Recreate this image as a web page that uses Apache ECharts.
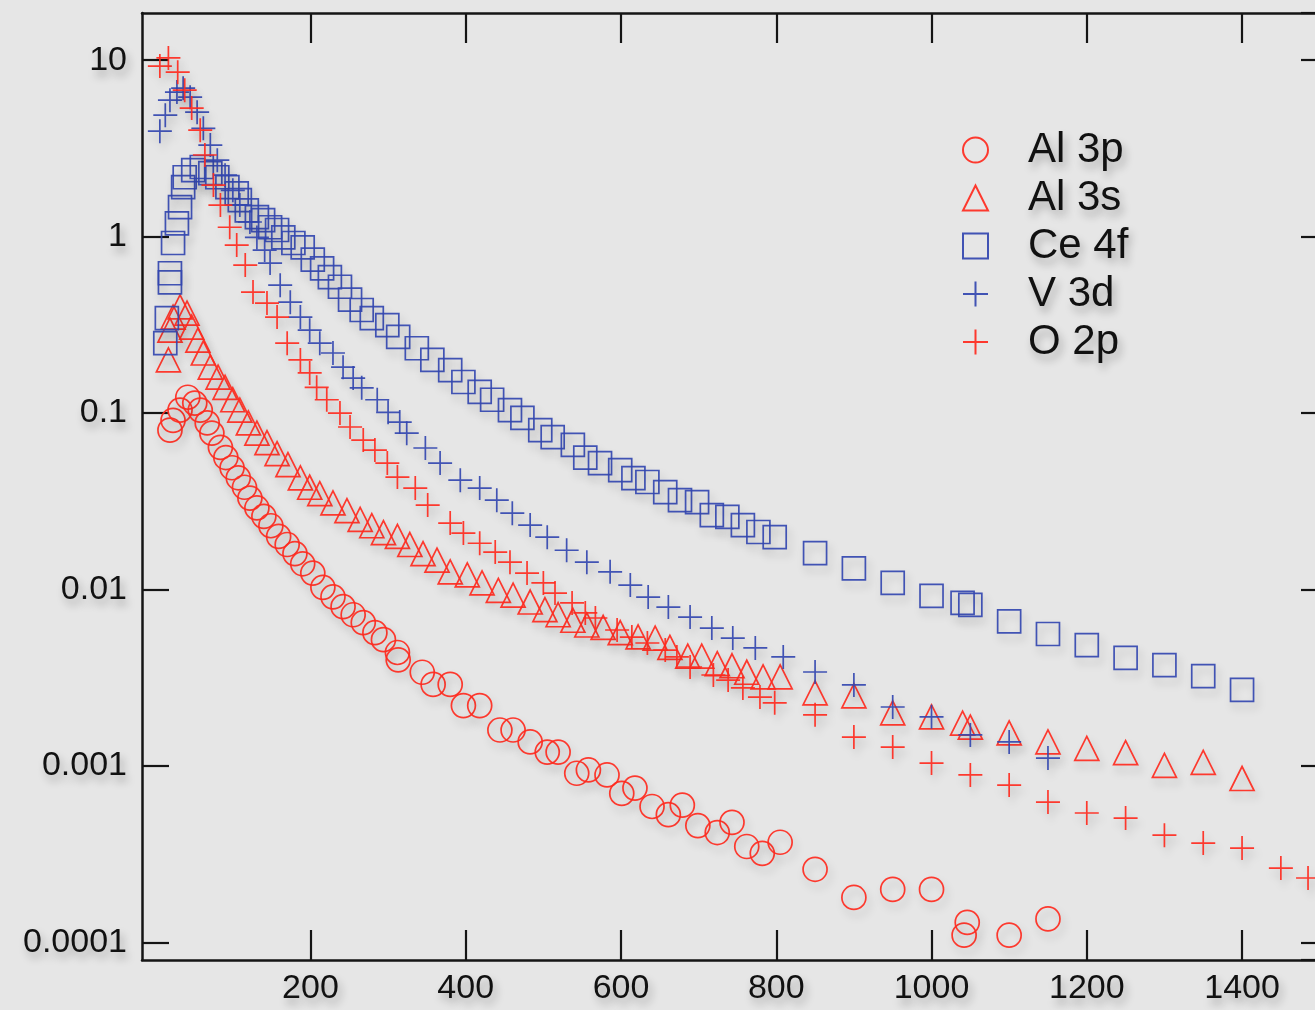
<!DOCTYPE html>
<html><head><meta charset="utf-8">
<script src="https://cdn.jsdelivr.net/npm/echarts@6/dist/echarts.min.js"></script>
<style>html,body{margin:0;padding:0;background:#e6e6e6;}#c{width:1315px;height:1010px;}</style>
</head><body><div id="c"></div>
<script>
const seriesNames = ['Al 3p', 'Al 3s', 'Ce 4f', 'V 3d', 'O 2p'];
const xTickValues = [200, 400, 600, 800, 1000, 1200, 1400];

const al3pX = [19,23,32,42,51,58,67,73,84,91,99,107,115,122,131,140,149,159,170,180,190,203,216,229,242,255,268,283,294,312,313,344,358,380,397,418,444,461,483,505,519,543,558,582,601,618,640,661,679,699,724,743,762,782,805,850,900,950,1000,1042,1046,1100,1150];
const al3pY = [0.080,0.091,0.104,0.123,0.114,0.104,0.088,0.077,0.064,0.056,0.049,0.043,0.038,0.033,0.029,0.026,0.023,0.020,0.018,0.016,0.014,0.0124,0.0103,0.0091,0.0080,0.0072,0.0065,0.0057,0.0052,0.0044,0.0040,0.0034,0.0029,0.0029,0.0022,0.0022,0.0016,0.0016,0.00137,0.0012,0.0012,0.00091,0.00095,0.00089,0.0007,0.00075,0.00059,0.00053,0.0006,0.00046,0.00042,0.00048,0.00035,0.00032,0.00037,0.00026,0.00018,0.0002,0.0002,0.00011,0.00013,0.00011,0.000136];

const al3sX = [17,19,23,32,41,47,55,62,71,81,90,100,109,120,131,144,157,171,187,199,212,229,247,264,279,294,312,328,345,363,380,402,421,442,461,483,502,519,538,556,577,599,622,644,663,686,704,724,743,762,783,805,850,900,950,1000,1040,1050,1100,1150,1200,1250,1300,1350,1400];
const al3sY = [0.20,0.295,0.35,0.40,0.369,0.307,0.259,0.219,0.182,0.16,0.14,0.119,0.104,0.088,0.077,0.068,0.059,0.051,0.043,0.038,0.035,0.031,0.028,0.025,0.023,0.021,0.020,0.018,0.016,0.0147,0.0126,0.0121,0.0109,0.0099,0.0093,0.0085,0.0077,0.0072,0.0067,0.0063,0.0061,0.0057,0.0054,0.0053,0.0047,0.0042,0.0042,0.0038,0.0037,0.0034,0.0032,0.0032,0.0026,0.0025,0.0020,0.0019,0.00175,0.00166,0.00154,0.00137,0.00126,0.00119,0.00101,0.00105,0.00085];

const ce4fX = [13,15,19,19,23,28,32,36,38,49,60,71,80,93,105,109,118,131,139,148,157,165,178,190,203,215,225,238,251,266,279,299,313,337,357,380,397,418,434,457,473,496,512,538,554,573,599,616,634,657,676,698,717,737,757,777,798,850,900,950,1000,1040,1050,1100,1150,1200,1250,1300,1350,1400];
const ce4fY = [0.249,0.345,0.55,0.62,0.92,1.19,1.47,1.91,2.17,2.38,2.48,2.29,2.17,1.91,1.76,1.61,1.41,1.29,1.24,1.13,1.09,0.99,0.92,0.87,0.74,0.66,0.59,0.52,0.44,0.384,0.345,0.315,0.27,0.233,0.20,0.175,0.150,0.132,0.119,0.104,0.094,0.080,0.073,0.066,0.056,0.052,0.0475,0.0428,0.0407,0.0357,0.0321,0.0313,0.0264,0.0258,0.0232,0.0212,0.0198,0.0161,0.0132,0.0109,0.0092,0.0084,0.0082,0.0066,0.0056,0.00485,0.0041,0.00373,0.00323,0.0027];

const v3dX = [6,13,19,28,36,45,54,62,71,80,90,100,109,122,131,141,148,161,174,187,199,212,229,242,255,266,286,300,315,324,348,367,393,418,440,460,483,505,530,556,586,612,635,661,689,717,744,773,809,850,900,950,1000,1050,1100,1150];
const v3dY = [3.96,4.88,5.93,6.59,6.94,6.17,5.07,4.11,3.30,2.71,2.23,1.83,1.51,1.21,0.99,0.839,0.708,0.531,0.425,0.35,0.295,0.249,0.219,0.182,0.158,0.139,0.119,0.101,0.089,0.077,0.0634,0.0521,0.0417,0.0376,0.0321,0.0271,0.0232,0.0198,0.0167,0.0143,0.0126,0.0106,0.00907,0.00796,0.00698,0.00605,0.00531,0.00467,0.00415,0.00341,0.00288,0.00216,0.0019,0.0015,0.00137,0.00111];

const o2pX = [6,17,29,38,47,58,64,75,84,96,105,116,126,144,157,170,187,199,208,221,238,251,268,283,299,312,335,351,380,397,418,438,457,479,500,515,537,554,567,595,614,634,657,672,689,719,738,757,779,798,850,900,950,1000,1050,1100,1150,1200,1250,1300,1350,1400,1450,1485];
const o2pY = [9.25,10.3,8.55,6.76,5.35,4.01,2.9,1.96,1.51,1.13,0.895,0.69,0.485,0.42,0.35,0.249,0.20,0.169,0.14,0.119,0.10,0.0834,0.0703,0.0617,0.0521,0.0434,0.0376,0.0301,0.0238,0.0209,0.0183,0.0163,0.0143,0.0124,0.0109,0.00955,0.0084,0.00737,0.0069,0.0059,0.00538,0.00498,0.00454,0.00415,0.00364,0.00328,0.00307,0.00277,0.00246,0.00228,0.00195,0.00146,0.00128,0.00104,0.00089,0.00078,0.000625,0.000542,0.000507,0.000406,0.000366,0.000343,0.000264,0.000232];

const RED = '#ff2a1e';
const BLUE = '#3346b0';
const PLUS = 'path://M0,10H20M10,0V20';
const FONT = '"Liberation Sans", Arial, Helvetica, sans-serif';

function zip(xs, ys) { return xs.map((x, i) => [x, ys[i]]); }

const markerDefs = [
  { name: seriesNames[0], xs: al3pX, ys: al3pY, symbol: 'circle', size: 24, color: RED },
  { name: seriesNames[1], xs: al3sX, ys: al3sY, symbol: 'triangle', size: 24, color: RED },
  { name: seriesNames[2], xs: ce4fX, ys: ce4fY, symbol: 'rect', size: 23, color: BLUE },
  { name: seriesNames[3], xs: v3dX, ys: v3dY, symbol: PLUS, size: 24, color: BLUE },
  { name: seriesNames[4], xs: o2pX, ys: o2pY, symbol: PLUS, size: 24, color: RED }
];

const textShadow = { textShadowColor: 'rgba(0,0,0,0.28)', textShadowBlur: 8, textShadowOffsetX: 3, textShadowOffsetY: 6 };
const axisLine = { show: true, onZero: false, lineStyle: { color: '#151515', width: 2.5 } };
const tickStyle = { color: '#151515', width: 2.2 };

const chart = echarts.init(document.getElementById('c'), null, { renderer: 'canvas' });
chart.setOption({
  animation: false,
  backgroundColor: '#e6e6e6',
  grid: { left: 142, top: 13, width: 1187, height: 947, containLabel: false, outerBoundsMode: 'none' },
  legend: {
    orient: 'vertical', left: 962, top: 126, padding: 0, itemGap: 0,
    itemWidth: 25, itemHeight: 25, selectedMode: false, symbolKeepAspect: true,
    data: seriesNames,
    textStyle: Object.assign({ fontFamily: FONT, fontSize: 42, color: '#111', lineHeight: 48, padding: [0, 0, 0, 35] }, textShadow)
  },
  xAxis: [
    {
      type: 'value', position: 'bottom', min: -17, max: 1512,
      axisLine: axisLine,
      axisTick: { show: true, inside: true, length: 30, lineStyle: tickStyle, customValues: xTickValues },
      axisLabel: Object.assign({ show: true, fontFamily: FONT, fontSize: 34, color: '#111', margin: 12, customValues: xTickValues,
        formatter: function (v) { return String(v); } }, textShadow),
      splitLine: { show: false }
    },
    {
      type: 'value', position: 'top', min: -17, max: 1512,
      axisLine: axisLine,
      axisTick: { show: true, inside: true, length: 30, lineStyle: tickStyle, customValues: xTickValues },
      axisLabel: { show: false },
      splitLine: { show: false }
    }
  ],
  yAxis: [
    {
      type: 'log', logBase: 10, position: 'left', min: 0.0000796, max: 18.5,
      axisLine: axisLine,
      axisTick: { show: true, inside: true, length: 27, lineStyle: tickStyle },
      axisLabel: Object.assign({
        show: true, fontFamily: FONT, fontSize: 34, color: '#111', margin: 15,
        showMinLabel: false, showMaxLabel: false,
        formatter: function (v) {
          const e = Math.round(Math.log10(v));
          return e >= 0 ? String(Math.pow(10, e)) : Math.pow(10, e).toFixed(-e);
        }
      }, textShadow),
      splitLine: { show: false }, minorTick: { show: false }
    },
    {
      type: 'log', logBase: 10, position: 'right', min: 0.0000796, max: 18.5,
      axisLine: axisLine,
      axisTick: { show: true, inside: true, length: 28, lineStyle: tickStyle },
      axisLabel: { show: false },
      splitLine: { show: false }
    }
  ],
  series: markerDefs.map(d => ({
    name: d.name,
    type: 'scatter',
    xAxisIndex: 0, yAxisIndex: 0,
    symbol: d.symbol,
    symbolSize: d.size,
    data: zip(d.xs, d.ys),
    itemStyle: {
      color: 'rgba(0,0,0,0)', borderColor: d.color, borderWidth: 1.7, opacity: 0.92,
      shadowColor: 'rgba(0,0,0,0.22)', shadowBlur: 8, shadowOffsetX: 3, shadowOffsetY: 6
    },
    emphasis: { disabled: true },
    silent: true
  }))
});
</script>
</body></html>
